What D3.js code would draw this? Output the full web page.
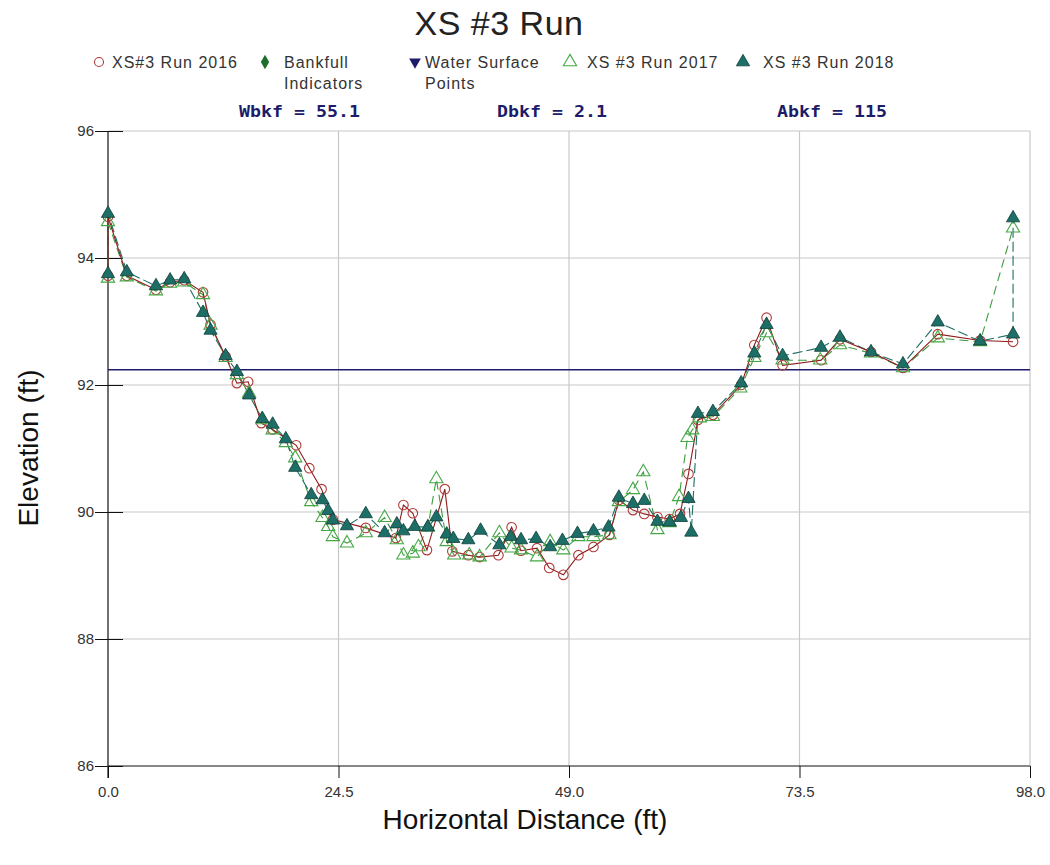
<!DOCTYPE html>
<html>
<head>
<meta charset="utf-8">
<script src="https://cdn.jsdelivr.net/npm/d3@7"></script>
<style>
  body { margin: 0; background: #fff; }
  text { font-family: "Liberation Sans", Arial, sans-serif; }
</style>
</head>
<body>
<svg id="chart" width="1050" height="865"></svg>
<script>
// ---- data ----
var xTicks = [0, 24.5, 49, 73.5, 98];
var yTicks = [86, 88, 90, 92, 94, 96];
var waterSurface = 92.24;

var dist2016 = [0,0,2.0,5.1,6.6,8.1,10.1,10.9,12.5,13.7,14.9,16.3,17.5,20.0,21.4,22.7,23.9,27.4,30.6,31.4,32.4,33.9,35.8,36.6,38.3,39.5,41.5,42.9,43.9,45.6,46.9,48.4,50.0,51.6,53.3,54.3,55.8,57.0,58.4,59.7,60.8,61.7,62.7,64.3,67.3,68.7,70.0,71.7,75.8,77.8,81.1,84.5,88.2,92.7,96.2];
var elev2016 = [93.72,94.65,93.72,93.50,93.62,93.65,93.46,92.95,92.45,92.03,92.05,91.40,91.30,91.05,90.69,90.36,89.88,89.75,89.59,90.11,89.98,89.40,90.36,89.38,89.32,89.29,89.32,89.76,89.39,89.43,89.12,89.01,89.32,89.45,89.64,90.19,90.03,89.97,89.92,89.89,89.97,90.60,91.45,91.53,92.00,92.63,93.06,92.31,92.39,92.72,92.52,92.27,92.80,92.70,92.68];

var dist2017 = [0,0,2.0,5.1,6.6,8.1,10.1,10.9,12.5,13.7,15.0,16.4,17.5,18.9,19.9,21.6,22.8,23.4,23.9,25.4,27.4,29.4,30.7,31.4,32.4,33.0,34.0,34.9,36.0,36.8,38.4,39.5,41.6,42.9,43.9,45.6,47.0,48.4,50.0,51.6,53.3,54.3,55.8,56.9,58.4,59.7,60.7,61.6,62.1,62.9,64.3,67.2,68.7,70.0,71.7,75.7,77.8,81.1,84.5,88.2,92.7,96.2];
var elev2017 = [93.68,94.57,93.70,93.48,93.60,93.62,93.42,92.94,92.43,92.16,91.87,91.45,91.29,91.09,90.85,90.16,89.91,89.77,89.61,89.51,89.67,89.91,89.56,89.32,89.35,89.45,89.76,90.52,89.53,89.32,89.32,89.29,89.67,89.43,89.40,89.29,89.53,89.40,89.61,89.61,89.64,90.16,90.35,90.63,89.72,89.83,90.24,91.17,91.29,91.48,91.50,91.95,92.43,92.82,92.39,92.39,92.63,92.50,92.27,92.74,92.68,94.47];

var dist2018 = [0,0,2.0,5.1,6.6,8.1,10.1,10.9,12.5,13.7,15.0,16.4,17.5,18.9,19.9,21.6,22.8,23.4,23.9,25.4,27.4,29.4,30.7,31.4,32.6,34.0,34.9,36.0,36.7,38.3,39.6,41.6,42.8,43.9,45.5,47.0,48.3,49.9,51.6,53.2,54.3,55.8,57.0,58.4,59.7,60.9,61.7,62.0,62.7,64.3,67.3,68.7,70.0,71.7,75.8,77.8,81.1,84.5,88.2,92.7,96.2,96.2];
var elev2018 = [93.75,94.70,93.78,93.56,93.65,93.67,93.14,92.86,92.46,92.21,91.84,91.47,91.38,91.15,90.70,90.27,90.19,90.02,89.87,89.78,89.97,89.67,89.81,89.70,89.77,89.76,89.92,89.65,89.58,89.56,89.71,89.48,89.61,89.56,89.58,89.45,89.55,89.66,89.70,89.76,90.23,90.13,90.18,89.85,89.84,89.91,90.21,89.68,91.55,91.58,92.03,92.50,92.95,92.46,92.59,92.75,92.52,92.33,92.99,92.69,92.80,94.63];

var legendNames = ["XS#3 Run 2016", "Bankfull|Indicators", "Water Surface|Points", "XS #3 Run 2017", "XS #3 Run 2018"];
var statLabels = ["Wbkf = 55.1", "Dbkf = 2.1", "Abkf = 115"];

// ---- setup ----
var svg = d3.select("#chart");
var x = d3.scaleLinear().domain([0, 98]).range([108, 1030]);
var y = d3.scaleLinear().domain([86, 96]).range([766, 131]);

var gridColor = "#c8c8c8";
var red = "#8e1c1c";
var green = "#3e9b3e";
var teal = "#1d6e66";
var navy = "#1c1c6a";

// grid
svg.append("g").selectAll("line.v")
    .data(xTicks.slice(1))
    .enter().append("line")
    .attr("x1", function(d){ return x(d); }).attr("x2", function(d){ return x(d); })
    .attr("y1", y(96)).attr("y2", y(86))
    .attr("stroke", gridColor).attr("stroke-width", 1.2);

svg.append("g").selectAll("line.h")
    .data(yTicks.slice(1))
    .enter().append("line")
    .attr("x1", x(0)).attr("x2", x(98))
    .attr("y1", function(d){ return y(d); }).attr("y2", function(d){ return y(d); })
    .attr("stroke", gridColor).attr("stroke-width", 1.2);

// axes
var yAxis = svg.append("g")
    .attr("transform", "translate(" + x(0) + ",0)")
    .call(d3.axisLeft(y).tickValues(yTicks).tickSize(13).tickPadding(1).tickFormat(d3.format("d")));
yAxis.selectAll(".tick line").attr("x1", 15).attr("stroke", "#111");
yAxis.select(".domain").attr("d", "M0," + y(96) + "V" + (y(86) + 12)).attr("stroke", "#111").attr("stroke-width", 1.2);
yAxis.selectAll("text").attr("font-size", 15).attr("fill", "#333")
    .style("font-family", "'Liberation Sans', Arial, sans-serif");

var xAxis = svg.append("g")
    .attr("transform", "translate(0," + y(86) + ")")
    .call(d3.axisBottom(x).tickValues(xTicks).tickSize(12).tickPadding(8).tickFormat(d3.format(".1f")));
xAxis.selectAll(".tick line").attr("y1", 0).attr("stroke", "#111");
xAxis.select(".domain").attr("d", "M" + x(0) + ",0H" + x(98)).attr("stroke", "#111").attr("stroke-width", 1.2);
xAxis.selectAll("text").attr("font-size", 15).attr("fill", "#333")
    .style("font-family", "'Liberation Sans', Arial, sans-serif");

// water surface
svg.append("line")
    .attr("x1", x(0)).attr("x2", x(98))
    .attr("y1", y(waterSurface)).attr("y2", y(waterSurface))
    .attr("stroke", navy).attr("stroke-width", 1.5);

// series
function pairs(xs, ys){
    return xs.map(function(d, i){ return [d, ys[i]]; });
}
var line = d3.line().x(function(d){ return x(d[0]); }).y(function(d){ return y(d[1]); });

var s2016 = pairs(dist2016, elev2016);
var s2017 = pairs(dist2017, elev2017);
var s2018 = pairs(dist2018, elev2018);

svg.append("path").datum(s2017).attr("d", line)
    .attr("fill", "none").attr("stroke", green).attr("stroke-width", 1.1).attr("stroke-dasharray", "9,5");
svg.append("path").datum(s2018).attr("d", line)
    .attr("fill", "none").attr("stroke", teal).attr("stroke-width", 1.1).attr("stroke-dasharray", "10,4");
svg.append("path").datum(s2016).attr("d", line)
    .attr("fill", "none").attr("stroke", red).attr("stroke-width", 1.1);

var tri = d3.symbol().type(d3.symbolTriangle).size(76);

svg.append("g").selectAll("circle")
    .data(s2016).enter().append("circle")
    .attr("cx", function(d){ return x(d[0]); })
    .attr("cy", function(d){ return y(d[1]); })
    .attr("r", 4.8)
    .attr("fill", "none").attr("stroke", "#b03a3a").attr("stroke-width", 1.1);

svg.append("g").selectAll("path")
    .data(s2017).enter().append("path")
    .attr("d", tri)
    .attr("transform", function(d){ return "translate(" + x(d[0]) + "," + y(d[1]) + ")"; })
    .attr("fill", "none").attr("stroke", "#45a845").attr("stroke-width", 1.1);

svg.append("g").selectAll("path")
    .data(s2018).enter().append("path")
    .attr("d", tri)
    .attr("transform", function(d){ return "translate(" + x(d[0]) + "," + y(d[1]) + ")"; })
    .attr("fill", teal).attr("stroke", "#0f3f3a").attr("stroke-width", 0.8);

// title
svg.append("text")
    .attr("x", 499).attr("y", 35)
    .attr("text-anchor", "middle")
    .attr("font-size", 34).attr("fill", "#222")
    .style("letter-spacing", "0.5px")
    .text("XS #3 Run");

// legend
var legendX = [99, 265, 415, 570, 743];
var legendTextX = [112, 284, 425, 587, 763];
var legend = svg.append("g");
legendNames.forEach(function(name, i){
    var g = legend.append("g");
    var lines = name.split("|");
    lines.forEach(function(t, j){
        g.append("text")
            .attr("x", legendTextX[i]).attr("y", 68 + j * 21)
            .attr("font-size", 16).attr("fill", "#333")
            .style("letter-spacing", "1px")
            .text(t);
    });
    var cx = legendX[i], cy = 62;
    if(i === 0){
        g.append("circle").attr("cx", cx).attr("cy", cy).attr("r", 4.5)
            .attr("fill", "none").attr("stroke", "#b03a3a").attr("stroke-width", 1.1);
    } else if(i === 1){
        g.append("path").attr("d", d3.symbol().type(d3.symbolDiamond).size(60))
            .attr("transform", "translate(" + cx + "," + cy + ")").attr("fill", "#1d6e2a");
    } else if(i === 2){
        g.append("path").attr("d", d3.symbol().type(d3.symbolTriangle).size(60))
            .attr("transform", "translate(" + cx + "," + cy + ") rotate(180)").attr("fill", navy);
    } else if(i === 3){
        g.append("path").attr("d", tri)
            .attr("transform", "translate(" + cx + "," + cy + ")")
            .attr("fill", "none").attr("stroke", "#45a845").attr("stroke-width", 1.1);
    } else {
        g.append("path").attr("d", tri)
            .attr("transform", "translate(" + cx + "," + cy + ")")
            .attr("fill", teal).attr("stroke", "#0f3f3a").attr("stroke-width", 0.8);
    }
});

// bankfull stats
var statX = [239, 497, 777];
svg.append("g").selectAll("text")
    .data(statLabels).enter().append("text")
    .attr("x", function(d, i){ return statX[i]; })
    .attr("y", 117)
    .attr("textLength", function(d){ return d.length * 11; })
    .attr("lengthAdjust", "spacingAndGlyphs")
    .attr("font-size", 15).attr("font-weight", "bold").attr("fill", navy)
    .style("font-family", "'DejaVu Sans Mono', monospace")
    .style("white-space", "pre")
    .text(function(d){ return d; });

// axis titles
svg.append("text")
    .attr("x", 525).attr("y", 829)
    .attr("text-anchor", "middle")
    .attr("font-size", 28).attr("fill", "#111")
    .text("Horizontal Distance (ft)");

svg.append("text")
    .attr("transform", "translate(38,448) rotate(-90)")
    .attr("text-anchor", "middle")
    .attr("font-size", 28).attr("fill", "#111")
    .text("Elevation (ft)");
</script>
</body>
</html>
